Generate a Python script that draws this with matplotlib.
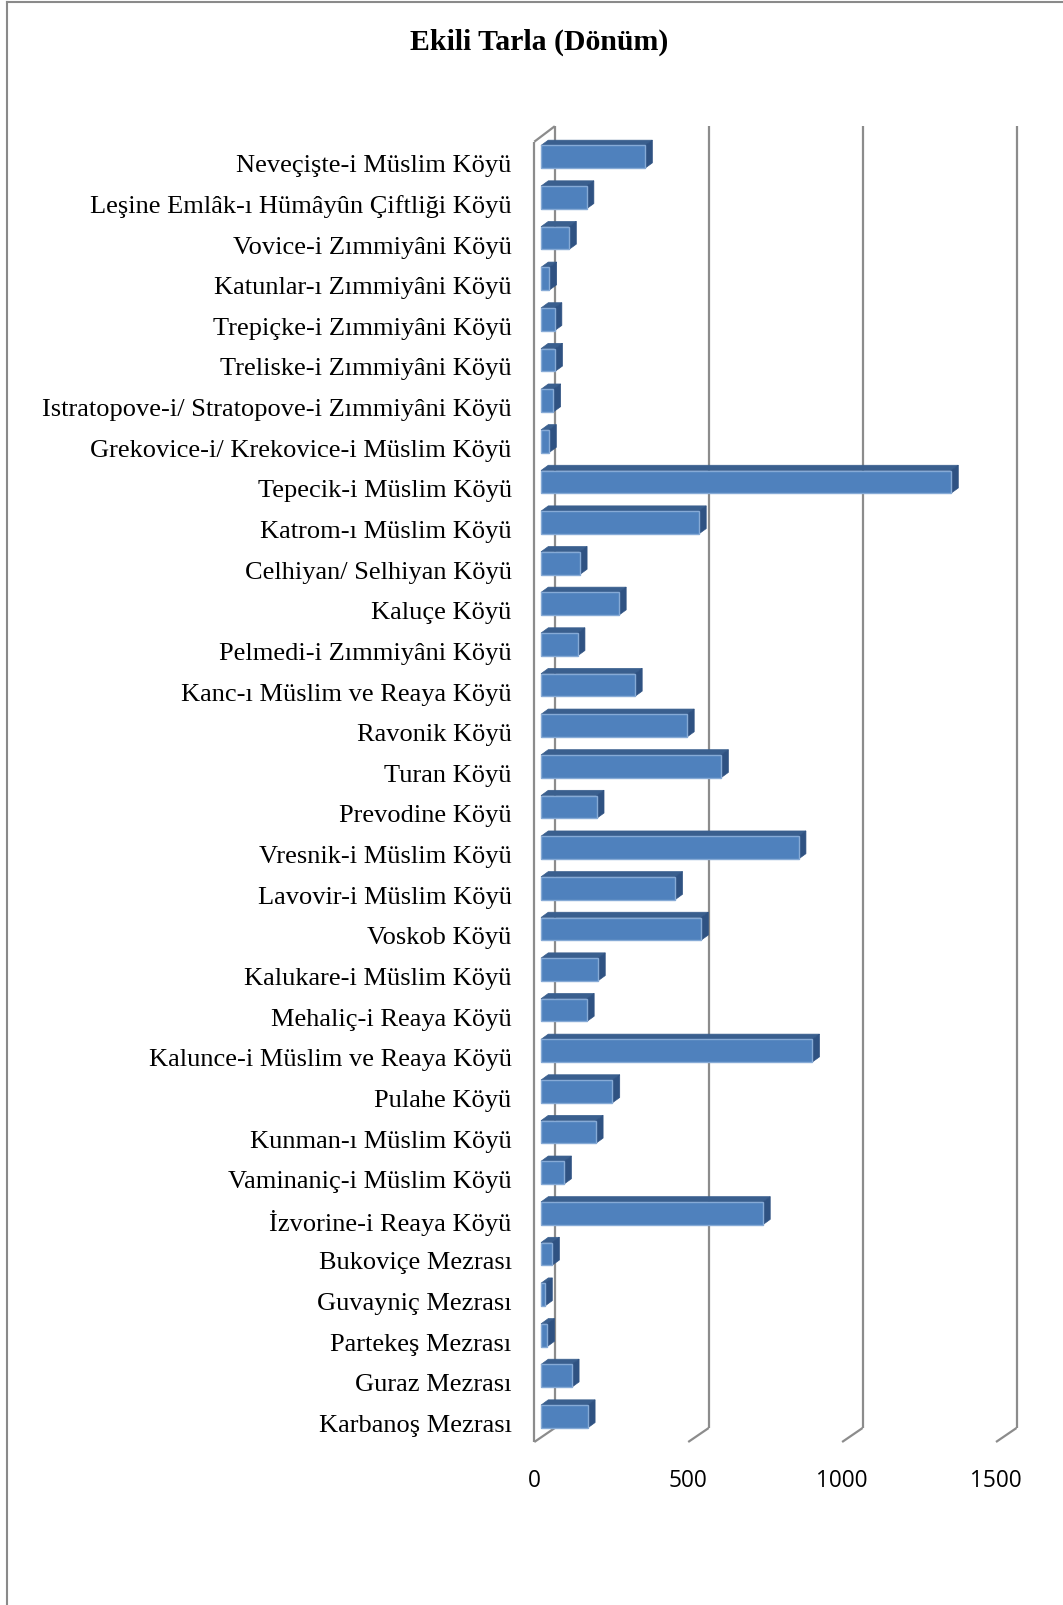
import matplotlib
matplotlib.use("Agg")
import matplotlib.pyplot as plt
from matplotlib.patches import Polygon, Rectangle
from matplotlib.lines import Line2D
import matplotlib.transforms as mtransforms

# ---------------- data ----------------
categories = [
    "Neveçişte-i Müslim Köyü",
    "Leşine Emlâk-ı Hümâyûn Çiftliği Köyü",
    "Vovice-i Zımmiyâni Köyü",
    "Katunlar-ı Zımmiyâni Köyü",
    "Trepiçke-i Zımmiyâni Köyü",
    "Treliske-i Zımmiyâni Köyü",
    "Istratopove-i/ Stratopove-i Zımmiyâni Köyü",
    "Grekovice-i/ Krekovice-i Müslim Köyü",
    "Tepecik-i Müslim Köyü",
    "Katrom-ı Müslim Köyü",
    "Celhiyan/ Selhiyan Köyü",
    "Kaluçe Köyü",
    "Pelmedi-i Zımmiyâni Köyü",
    "Kanc-ı Müslim ve Reaya Köyü",
    "Ravonik Köyü",
    "Turan Köyü",
    "Prevodine Köyü",
    "Vresnik-i Müslim Köyü",
    "Lavovir-i Müslim Köyü",
    "Voskob Köyü",
    "Kalukare-i Müslim Köyü",
    "Mehaliç-i Reaya Köyü",
    "Kalunce-i Müslim ve Reaya Köyü",
    "Pulahe Köyü",
    "Kunman-ı Müslim Köyü",
    "Vaminaniç-i Müslim Köyü",
    "İzvorine-i Reaya Köyü",
    "Bukoviçe Mezrası",
    "Guvayniç Mezrası",
    "Partekeş Mezrası",
    "Guraz Mezrası",
    "Karbanoş Mezrası",
]
values = [338, 148, 91, 27, 44, 46, 40, 26, 1332, 513, 126, 253, 119, 305,
          474, 585, 181, 837, 436, 520, 185, 149, 881, 232, 178, 75, 721,
          36, 13, 20, 100, 152]
xticks = [0, 500, 1000, 1500]
xtick_labels = ["0", "500", "1000", "1500"]
title = "Ekili Tarla (Dönüm)"

# ---------------- layout ----------------
W, H, DPI = 1063, 1606, 100
fig = plt.figure(figsize=(W / DPI, H / DPI), dpi=DPI)
fig.patch.set_facecolor("white")

ax_left, ax_right = 534.3, 996.0
ax_top, ax_bottom = 142.7, 1443.0
ax = fig.add_axes([ax_left / W, (H - ax_bottom) / H,
                   (ax_right - ax_left) / W, (ax_bottom - ax_top) / H])
N = len(categories)
ax.set_xlim(0, 1500)
ax.set_ylim(N - 0.5, -0.5)
ax.patch.set_visible(False)
for s in ax.spines.values():
    s.set_visible(False)

kx = (ax_right - ax_left) / 1500.0   # px per value unit
ky = (ax_bottom - ax_top) / N        # px per category

# depth of the 3D wall (pixels -> data)
WX = 20.5 / kx
WY = -15.5 / ky
# bar front-face offset and bar depth
BX0 = 6.7 / kx
BY0 = -5.2 / ky
BDX = 7.3 / kx
BDY = -5.3 / ky
BH = 22.7 / ky

grid_color = "#8C8C8C"
glw = 1.6
y0, y1 = -0.5, N - 0.5

# left wall
for xs, ys in [
    ([0, 0], [y0, y1]),
    ([WX, WX], [y0 + WY, y1 + WY + 1.5 / ky]),
    ([0, WX], [y0, y0 + WY]),
    ([0, WX], [y1, y1 + WY + 1.5 / ky]),
]:
    ax.plot(xs, ys, color=grid_color, lw=glw, clip_on=False, zorder=1,
            solid_capstyle="butt")

# gridlines
for t in xticks[1:]:
    ax.plot([t + WX, t + WX], [y0 + WY, y1 + WY + 1.5 / ky], color=grid_color,
            lw=glw, clip_on=False, zorder=1, solid_capstyle="butt")
    ax.plot([t, t + WX], [y1, y1 + WY + 1.5 / ky], color=grid_color, lw=glw,
            clip_on=False, zorder=1, solid_capstyle="butt")

front_c = "#4F81BD"
top_c = "#3A5F8E"
side_c = "#2F5282"
edge_c = "#86AAD6"

for i, v in enumerate(values):
    yc = i + BY0
    yt = yc - BH / 2
    yb = yc + BH / 2
    x0 = BX0
    x1 = BX0 + v
    top = Polygon([(x0, yt), (x1, yt), (x1 + BDX, yt + BDY), (x0 + BDX, yt + BDY)],
                  closed=True, facecolor=top_c, edgecolor=top_c, lw=0.5,
                  clip_on=False, zorder=3)
    side = Polygon([(x1, yt), (x1 + BDX, yt + BDY), (x1 + BDX, yb + BDY), (x1, yb)],
                   closed=True, facecolor=side_c, edgecolor=side_c, lw=0.5,
                   clip_on=False, zorder=3)
    front = Rectangle((x0, yt), v, BH, facecolor=front_c, edgecolor=edge_c,
                      lw=1.0, clip_on=False, zorder=4)
    ax.add_patch(top)
    ax.add_patch(side)
    ax.add_patch(front)

# ticks
ax.set_xticks(xticks)
ax.set_xticklabels(xtick_labels, fontfamily="Open Sans", fontsize=16.3,
                   color="black")
ax.tick_params(axis="x", length=0, pad=19.0)
ax.set_yticks(range(N))
ax.set_yticklabels(categories, fontfamily="Liberation Serif", fontsize=19,
                   color="black")
ax.tick_params(axis="y", length=0, pad=16.3)
shift = mtransforms.ScaledTranslation(0, -0.8 / DPI, fig.dpi_scale_trans)
for lab in ax.get_yticklabels():
    lab.set_transform(lab.get_transform() + shift)

# title
fig.text(539 / W, 1 - 42.5 / H, title, ha="center", va="center",
         fontsize=21.4, fontweight="bold", fontfamily="Liberation Serif")

# chart area border (left and top visible)
bx = 6.7 / W
by = 1 - 2.7 / H
fig.add_artist(Line2D([bx, bx], [0, by], transform=fig.transFigure,
                      color="#8A8A8A", lw=1.5))
fig.add_artist(Line2D([bx, 1], [by, by], transform=fig.transFigure,
                      color="#8A8A8A", lw=1.5))

fig.savefig("out.png", dpi=DPI)
